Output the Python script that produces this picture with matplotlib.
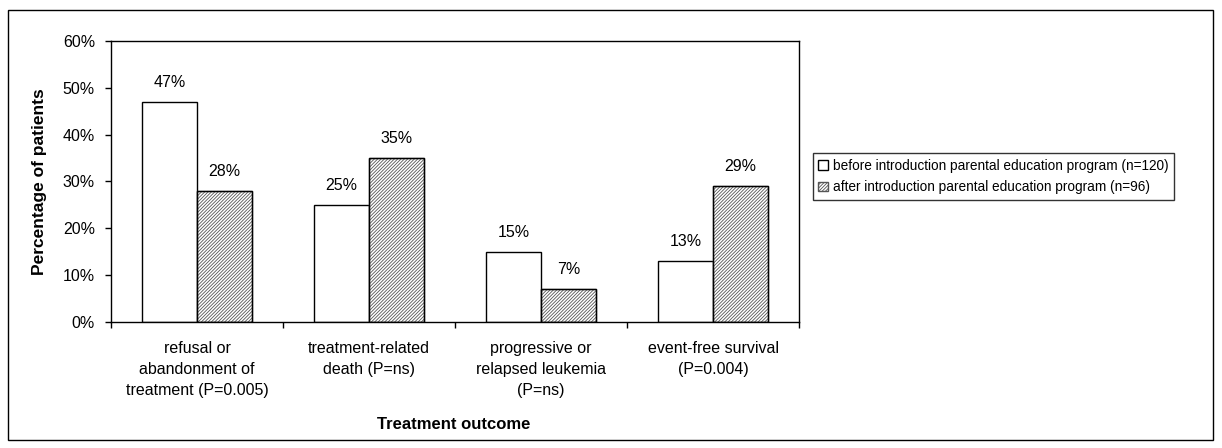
import numpy as np
import matplotlib.pyplot as plt
from matplotlib.patches import Rectangle

plt.rcParams['font.family'] = ['Liberation Sans', 'DejaVu Sans']
plt.rcParams['hatch.linewidth'] = 0.6

# data
categories = ["refusal or\nabandonment of\ntreatment (P=0.005)",
              "treatment-related\ndeath (P=ns)",
              "progressive or\nrelapsed leukemia\n(P=ns)",
              "event-free survival\n(P=0.004)"]
before = [47, 25, 15, 13]
after = [28, 35, 7, 29]
series_names = ["before introduction parental education program (n=120)",
                "after introduction parental education program (n=96)"]

fig = plt.figure(figsize=(12.22, 4.48), dpi=100)
ax = fig.add_axes([0.0908, 0.2813, 0.5632, 0.6272])

x = np.arange(len(categories))
w = 0.32
fs = 11.5
b1 = ax.bar(x - w/2, before, w, color="white", edgecolor="black", linewidth=1.0,
            label=series_names[0])
b2 = ax.bar(x + w/2, after, w, color="white", edgecolor="#555555", hatch="//////////",
            linewidth=1.0, label=series_names[1])
# black outline over the hatched bars
ax.bar(x + w/2, after, w, color="none", edgecolor="black", linewidth=1.0)

for bars, vals in ((b1, before), (b2, after)):
    for r, v in zip(bars, vals):
        ax.text(r.get_x() + r.get_width()/2, v + 2.6, f"{v}%", ha="center",
                va="bottom", fontsize=fs)

ax.set_xlim(-0.5, len(categories) - 0.5)
ax.set_ylim(0, 60)
ax.set_yticks(np.arange(0, 61, 10))
ax.set_yticklabels([f"{t}%" for t in range(0, 61, 10)], fontsize=fs)
ax.set_xticks(np.arange(-0.5, len(categories), 1.0))
ax.set_xticklabels([])
ax.set_xticks(x, minor=True)
ax.set_xticklabels(categories, minor=True, fontsize=fs, linespacing=1.5)
ax.tick_params(axis="x", which="minor", length=0, pad=14)
ax.tick_params(axis="x", which="major", direction="out", length=4.5, width=1)
ax.tick_params(axis="y", direction="out", length=4.5, width=1, pad=7)
for s in ax.spines.values():
    s.set_linewidth(1.0)

ax.set_ylabel("Percentage of patients", fontsize=12.5, fontweight="bold")
ax.yaxis.set_label_coords(-0.093, 0.5)
fig.text(0.371, 0.053, "Treatment outcome", ha="center", va="center",
         fontsize=12, fontweight="bold")

leg = ax.legend(handles=[b1, b2], loc="upper left", bbox_to_anchor=(0.665, 0.658),
                bbox_transform=fig.transFigure, fontsize=9.8, frameon=True,
                fancybox=False, edgecolor="black", handlelength=0.7,
                handleheight=0.7, handletextpad=0.4, borderpad=0.4,
                labelspacing=0.55, borderaxespad=0)
leg.get_frame().set_linewidth(1.0)

fig.patches.append(Rectangle((8/1222, 8/448), 1205/1222, 430/448,
                             transform=fig.transFigure, fill=False,
                             edgecolor="black", linewidth=1.0))

fig.savefig("out.png", dpi=100)
